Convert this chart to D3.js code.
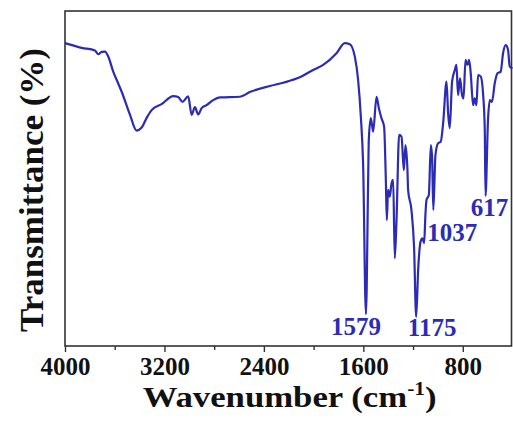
<!DOCTYPE html>
<html>
<head>
<meta charset="utf-8">
<script src="https://cdn.jsdelivr.net/npm/d3@7"></script>
<style>
    body { margin: 0; background: #fff; }
    svg { display: block; }
    .tick text { font-family: 'Liberation Serif', 'Times New Roman', serif; font-weight: bold; }
</style>
</head>
<body>
<svg id="chart" width="513" height="421"></svg>
<script>
// FTIR spectrum
let wavenumber = [4000, 3866, 3759, 3732, 3705, 3678, 3652, 3612, 3584, 3544,
    3477, 3424, 3383, 3343, 3303, 3223, 3129, 3089, 3055, 3009,
    2981, 2955, 2928, 2901, 2861, 2808, 2754, 2593, 2513, 2352,
    2245, 2111, 2004, 1923, 1816, 1749, 1709, 1668, 1642, 1620,
    1602, 1579, 1561, 1556, 1540, 1521, 1494, 1475, 1454, 1433,
    1419, 1411, 1401, 1387, 1373, 1360, 1347, 1333, 1312, 1293,
    1274, 1261, 1245, 1240, 1213, 1192, 1175, 1159, 1140, 1124,
    1111, 1100, 1092, 1073, 1057, 1047, 1037, 1020, 999, 977,
    958, 931, 918, 905, 886, 864, 851, 838, 822, 806,
    794, 778, 762, 749, 736, 717, 704, 690, 677, 655,
    637, 623, 617, 597, 583, 565, 543, 521, 495, 476,
    454, 436, 422, 400]
let transmittance = [90.4, 89.0, 88.2, 87.1, 87.8, 87.9, 86.4, 81.9, 79.4, 75.9,
    69.0, 64.3, 65.2, 68.1, 70.4, 72.2, 74.6, 74.3, 72.9, 74.5,
    69.0, 71.3, 69.1, 71.0, 71.9, 73.4, 74.2, 74.4, 75.8, 77.6,
    78.6, 80.2, 82.4, 83.9, 87.4, 90.4, 90.1, 86.3, 79.4, 68.4,
    54.6, 9.5, 50.4, 61.5, 68.0, 64.0, 74.4, 71.0, 68.0, 65.5,
    49.6, 37.6, 46.6, 44.6, 48.6, 49.6, 26.2, 37.6, 63.0, 62.5,
    52.5, 60.0, 52.5, 46.6, 40.6, 29.6, 8.7, 22.7, 31.1, 32.1,
    30.7, 39.6, 43.6, 45.1, 60.0, 56.5, 40.6, 57.0, 60.5, 61.0,
    66.5, 78.9, 69.5, 65.0, 78.9, 82.4, 83.9, 74.9, 79.9, 74.9,
    73.9, 85.4, 83.9, 85.4, 81.4, 71.9, 73.9, 71.9, 80.9, 80.4,
    75.4, 64.5, 44.8, 67.5, 73.4, 72.9, 78.4, 81.4, 81.9, 87.4,
    89.8, 88.4, 83.4, 82.9]

let majorTicks = [4000, 3200, 2400, 1600, 800]
let minorTicks = [3600, 2800, 2000, 1200]
let peakLabels = ['1579', '1175', '1037', '617']
let peakPos = [1579, 1175, 1037, 617]
let peakT = [9.5, 8.7, 40.6, 44.8]

let mLeft = 65, mRight = 512.5, mTop = 11, mBottom = 346
let lineColor = '#2b2bb5'

let xScale = d3.scaleLinear()
    .domain([4000, 400])
    .range([mLeft, mRight])
let yScale = d3.scaleLinear()
    .domain([0, 100])
    .range([mBottom, mTop])

let svg = d3.select('#chart')

//spectrum
let line = d3.line()
    .x((d, i) => xScale(wavenumber[i]))
    .y((d, i) => yScale(transmittance[i]))
    .curve(d3.curveMonotoneX)

svg.append('path')
    .datum(wavenumber)
    .attr('d', line)
    .attr('fill', 'none')
    .attr('stroke', lineColor)
    .attr('stroke-width', 2.2)
    .attr('stroke-linejoin', 'round')

//frame
svg.append('rect')
    .attr('x', mLeft)
    .attr('y', mTop)
    .attr('width', mRight - mLeft - 1)
    .attr('height', mBottom - mTop)
    .attr('fill', 'none')
    .attr('stroke', '#333')
    .attr('stroke-width', 1.6)

//x axis, major and minor ticks
let xAxis = d3.axisBottom(xScale)
    .tickValues(majorTicks)
    .tickSize(6)
    .tickSizeOuter(0)
    .tickFormat(d3.format('d'))
let xMinor = d3.axisBottom(xScale)
    .tickValues(minorTicks)
    .tickSize(4)
    .tickSizeOuter(0)
    .tickFormat('')

let gx = svg.append('g')
    .attr('transform', `translate(0, ${mBottom})`)
    .call(xAxis)
gx.select('.domain').remove()
gx.selectAll('line').attr('stroke', '#333').attr('stroke-width', 1.4)
gx.selectAll('text')
    .attr('fill', '#111')
    .attr('dy', null)
    .attr('y', 29)
    .style('font-size', '25px')

let gm = svg.append('g')
    .attr('transform', `translate(0, ${mBottom})`)
    .call(xMinor)
gm.select('.domain').remove()
gm.selectAll('line').attr('stroke', '#333').attr('stroke-width', 1.4)

//peak labels
svg.selectAll('.peak')
    .data(peakLabels)
    .enter()
    .append('text')
    .attr('class', 'peak')
    .attr('x', function (d, i) {
        let shift = [-10, 16, 19, 4]
        return xScale(peakPos[i]) + shift[i] })
    .attr('y', function (d, i) {
        let off = [21, 19, 31, 20]
        return yScale(peakT[i]) + off[i] })
    .attr('text-anchor', 'middle')
    .style('font-family', "'Liberation Serif', 'Times New Roman', serif")
    .style('font-weight', 'bold')
    .style('font-size', '25px')
    .attr('fill', lineColor)
    .text(d => d)

//axis titles
let xTitle = svg.append('text')
    .attr('x', 142.7)
    .attr('y', 406.5)
    .attr('textLength', 294)
    .attr('lengthAdjust', 'spacingAndGlyphs')
    .style('font-family', "'Liberation Serif', 'Times New Roman', serif")
    .style('font-weight', 'bold')
    .style('font-size', '29px')
    .attr('fill', '#111')
xTitle.append('tspan').text('Wavenumber (cm')
xTitle.append('tspan').text('-1').attr('dy', -12).style('font-size', '18px')
xTitle.append('tspan').text(')').attr('dy', 12)

svg.append('text')
    .attr('transform', `translate(43, 190) rotate(-90)`)
    .attr('text-anchor', 'middle')
    .attr('textLength', 284)
    .attr('lengthAdjust', 'spacingAndGlyphs')
    .style('font-family', "'Liberation Serif', 'Times New Roman', serif")
    .style('font-weight', 'bold')
    .style('font-size', '34px')
    .attr('fill', '#111')
    .text('Transmittance (%)')
</script>
</body>
</html>
